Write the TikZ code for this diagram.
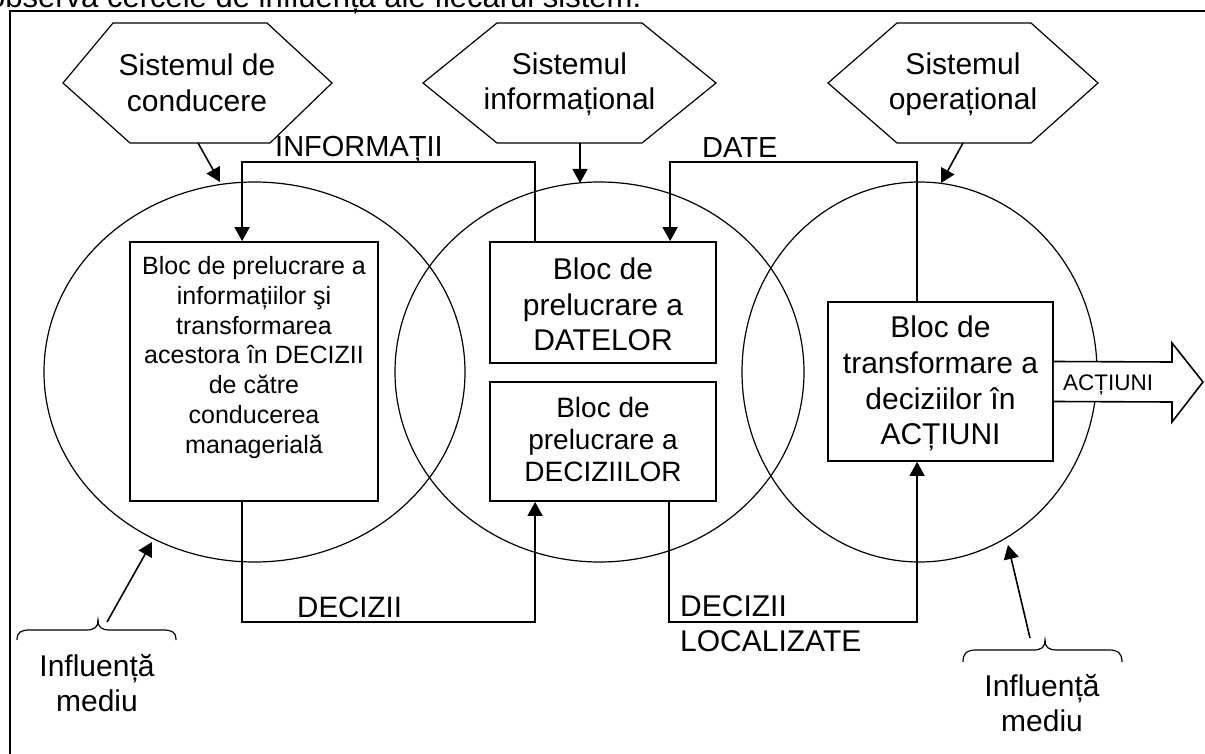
\documentclass[tikz,border=0pt]{standalone}
\usepackage{fontspec}
\setmainfont{Liberation Sans}
\usetikzlibrary{arrows.meta,shapes.geometric}
\newcommand\myfs[2]{\fontsize{#1}{#2}\selectfont}
\tikzset{
  hexl/.style={line width=1.2pt},
  circ/.style={draw, ellipse, line width=1.2pt, inner sep=0pt},
  blk/.style={draw, fill=white, line width=1.8pt, inner sep=0pt, rectangle},
  txt/.style={inner sep=0pt, align=center},
  conn/.style={line width=1.6pt, -{Triangle[length=14pt,width=15pt]}},
  plain/.style={line width=1.6pt},
  brc/.style={line width=1.2pt},
}
\begin{document}
\begin{tikzpicture}[x=1pt,y=-1pt]
\useasboundingbox (0,0) rectangle (1205,754);
% partially cut caption line
\node[anchor=base west, inner sep=0pt, font=\myfs{31}{37}] (cap) at (-12,8) {observă cercele de influență ale fiecărui sistem.};
% frame
\draw[line width=2pt] (10,770) -- (10,11) -- (1220,11);

% circles
\node[circ, minimum width=421pt, minimum height=380pt] (c1) at (254.5,372) {};
\node[circ, minimum width=409pt, minimum height=380pt] (c2) at (599.5,372) {};
\node[circ, minimum width=355pt, minimum height=380pt] (c3) at (919.5,372) {};

% hexagons
\draw[hexl] (63,83) -- (113,23) -- (267,23) -- (332,83) -- (270,143) -- (130,143) -- cycle;
\draw[hexl] (423,83) -- (497,23) -- (642,23) -- (716,83) -- (642,143) -- (497,143) -- cycle;
\draw[hexl] (828,83) -- (897,23) -- (1031,23) -- (1098,83) -- (1031,143) -- (897,143) -- cycle;
\node[txt, font=\myfs{30}{36}] (hex1) at (197,83) {Sistemul de\\conducere};
\node[txt, font=\myfs{30}{35}] (hex2) at (569.5,84) {Sistemul\\informațional};
\node[txt, font=\myfs{30}{35}] (hex3) at (963,84) {Sistemul\\operațional};

% hexagon -> circle arrows
\coordinate (h1b) at (198,143); \coordinate (c1t) at (220,182);
\coordinate (h2b) at (580,143); \coordinate (c2t) at (580,183);
\coordinate (h3b) at (963,143); \coordinate (c3t) at (941,183);
\draw[conn] (h1b) -- (c1t);
\draw[conn] (h2b) -- (c2t);
\draw[conn] (h3b) -- (c3t);

% blocks
\node[blk, minimum width=248pt, minimum height=259pt] (box1) at (254,371.5) {};
\node[blk, minimum width=226pt, minimum height=121pt] (box2) at (603,302.5) {};
\node[blk, minimum width=226pt, minimum height=119pt] (box3) at (603,441.5) {};
\node[blk, minimum width=225pt, minimum height=159pt] (box4) at (940.5,381.5) {};

\node[txt, font=\myfs{25}{29.7}] (t1) at (254,357.5) {Bloc de prelucrare a\\informațiilor şi\\transformarea\\acestora în DECIZII\\de către\\conducerea\\managerială};
\node[txt, font=\myfs{30}{35.5}] (t2) at (603,304.5) {Bloc de\\prelucrare a\\DATELOR};
\node[txt, font=\myfs{28}{32}] (t3) at (603,439) {Bloc de\\prelucrare a\\DECIZIILOR};
\node[txt, font=\myfs{30}{35.7}] (t4) at (940.5,383.5) {Bloc de\\transformare a\\deciziilor în\\ACȚIUNI};

% connectors
\draw[conn] ([xshift=46pt]box2.north west) -- ++(0,-79) -| ([xshift=113pt]box1.north west);
\draw[conn] ([xshift=90pt]box4.north west) -- ++(0,-139) -| ([xshift=181pt]box2.north west);
\draw[conn] ([xshift=113pt]box1.south west) -- ++(0,120) -| ([xshift=46pt]box3.south west);
\draw[conn] ([xshift=180pt]box3.south west) -- ++(0,120) -| ([xshift=90pt]box4.south west);

% connector labels
\node[anchor=base west, inner sep=0pt, font=\myfs{29}{35}] (linf) at (275,157) {INFORMAȚII};
\node[anchor=base west, inner sep=0pt, font=\myfs{29}{35}] (ldate) at (702,158) {DATE};
\node[anchor=base west, inner sep=0pt, font=\myfs{29.5}{35}] (ldec) at (297,617) {DECIZII};
\node[anchor=north west, inner sep=0pt, align=left, font=\myfs{30}{35}] (lloc) at (680,595.5) {DECIZII\\LOCALIZATE};

% output arrow
\draw[plain, fill=white] ([yshift=20pt]box4.east) -- (1172,362) -- (1172,343) -- (1203,382) -- (1172,422) -- (1172,402) -- ([yshift=-20pt]box4.east);
\node[anchor=base west, inner sep=0pt, font=\myfs{22.5}{27}] (lact) at (1063,390) {ACȚIUNI};

% environment influence
\draw[brc] (17,640) .. controls (17,632) and (21,630) .. (30,630) -- (86,630) .. controls (95,630) and (98,627) .. (98,620) .. controls (98,627) and (101,630) .. (110,630) -- (163,630) .. controls (172,630) and (176,632) .. (176,640);
\draw[brc] (963,662) .. controls (963,653) and (967,650) .. (976,650) -- (1033,650) .. controls (1042,650) and (1045,647) .. (1045,640) .. controls (1045,647) and (1048,650) .. (1057,650) -- (1109,650) .. controls (1118,650) and (1122,653) .. (1122,662);
\coordinate (b1) at (107,622); \coordinate (c1b) at (152,542);
\coordinate (b2) at (1030,638); \coordinate (c3b) at (1008,545);
\draw[conn] (b1) -- (c1b);
\draw[conn] (b2) -- (c3b);
\node[txt, font=\myfs{30}{35}] (inf1) at (97,683.5) {Influență\\mediu};
\node[txt, font=\myfs{30}{35}] (inf2) at (1042,703.5) {Influență\\mediu};
\end{tikzpicture}
\end{document}
